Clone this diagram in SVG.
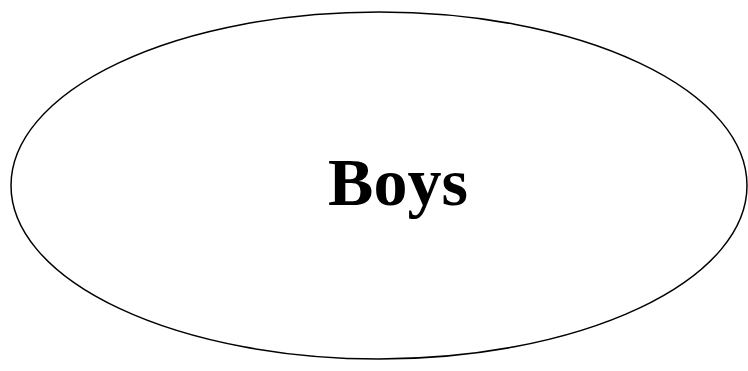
<svg xmlns="http://www.w3.org/2000/svg" width="748" height="371" viewBox="0 0 748 371">
<style>
.shape{fill:#fff;stroke:#000;stroke-width:1.5}
.label{font-family:"Liberation Serif","Times New Roman",serif;font-weight:bold;font-size:68px;fill:#000}
</style>
<rect width="748" height="371" fill="#fff"/>
<g id="boys">
<ellipse class="shape" cx="379" cy="185.5" rx="368" ry="173.5"/>
<text class="label" x="398" y="205" text-anchor="middle">Boys</text>
</g>
<g id="connectors"></g>
</svg>
